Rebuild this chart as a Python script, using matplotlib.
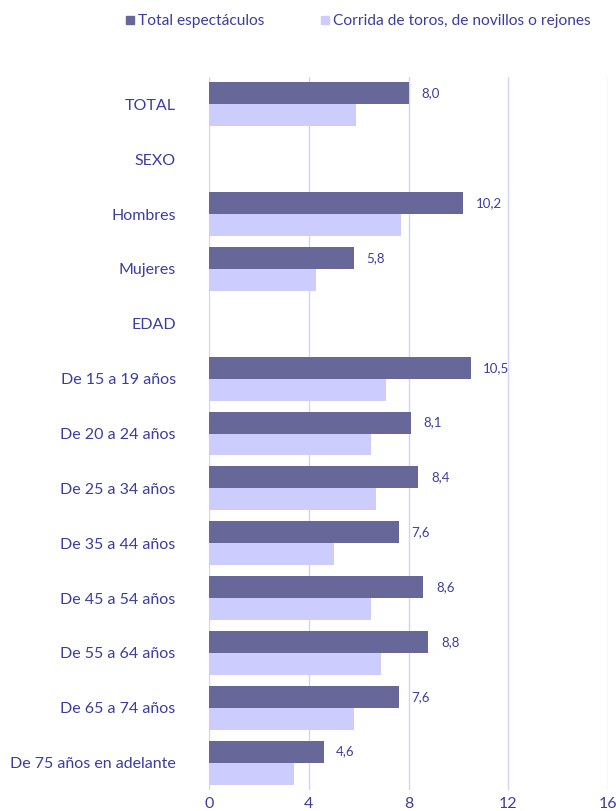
import matplotlib

matplotlib.use("Agg")

import matplotlib.pyplot as plt
import numpy as np
from matplotlib.lines import Line2D

categories = [
    "TOTAL", "SEXO", "Hombres", "Mujeres", "EDAD",
    "De 15 a 19 años", "De 20 a 24 años", "De 25 a 34 años", "De 35 a 44 años",
    "De 45 a 54 años", "De 55 a 64 años", "De 65 a 74 años", "De 75 años en adelante",
]
total_esp = [8.0, None, 10.2, 5.8, None, 10.5, 8.1, 8.4, 7.6, 8.6, 8.8, 7.6, 4.6]
toros = [5.9, None, 7.7, 4.3, None, 7.1, 6.5, 6.7, 5.0, 6.5, 6.9, 5.8, 3.4]
series_names = ["Total espectáculos", "Corrida de toros, de novillos o rejones"]

DARK = "#67679a"
LIGHT = "#ccccff"
TEXT = "#3d3d9e"
GRID = "#d2d2fa"

plt.rcParams["font.family"] = ["Lato", "DejaVu Sans"]

fig = plt.figure(figsize=(6.16, 8.11), dpi=100)
ax = fig.add_axes([209 / 616, 1 - 790 / 811, 399 / 616, 713 / 811])

y = np.arange(len(categories))
h = 0.4
for i, (a, b) in enumerate(zip(total_esp, toros)):
    if a is None:
        continue
    ax.barh(y[i] - h / 2, a, height=h, color=DARK, zorder=3)
    ax.barh(y[i] + h / 2, b, height=h, color=LIGHT, zorder=3)
    ax.text(a + 0.5, y[i] - h / 2, f"{a:.1f}".replace(".", ","), va="center",
            ha="left", fontsize=9.5, color=TEXT)

ax.set_xlim(0, 16)
ax.set_ylim(12.5, -0.5)
ax.set_xticks([0, 4, 8, 12, 16])
ax.set_yticks(y)
ax.set_yticklabels(categories)
ax.tick_params(axis="y", length=0, pad=24, labelsize=11.5, labelcolor=TEXT)
ax.tick_params(axis="x", length=0, pad=5, labelsize=11.5, labelcolor=TEXT)
ax.grid(axis="x", color=GRID, linewidth=1, zorder=0)
for s in ax.spines.values():
    s.set_visible(False)

handles = [Line2D([], [], marker="s", linestyle="", color=c, markersize=6)
           for c in (DARK, LIGHT)]
fig.legend(handles, series_names, loc="center left", bbox_to_anchor=(124 / 616, 1 - 21 / 811),
           ncol=2, frameon=False, handletextpad=0.1, columnspacing=3.5,
           handlelength=0.8, fontsize=11.2, labelcolor=TEXT, borderaxespad=0, borderpad=0)

fig.savefig("out.png", dpi=100)
